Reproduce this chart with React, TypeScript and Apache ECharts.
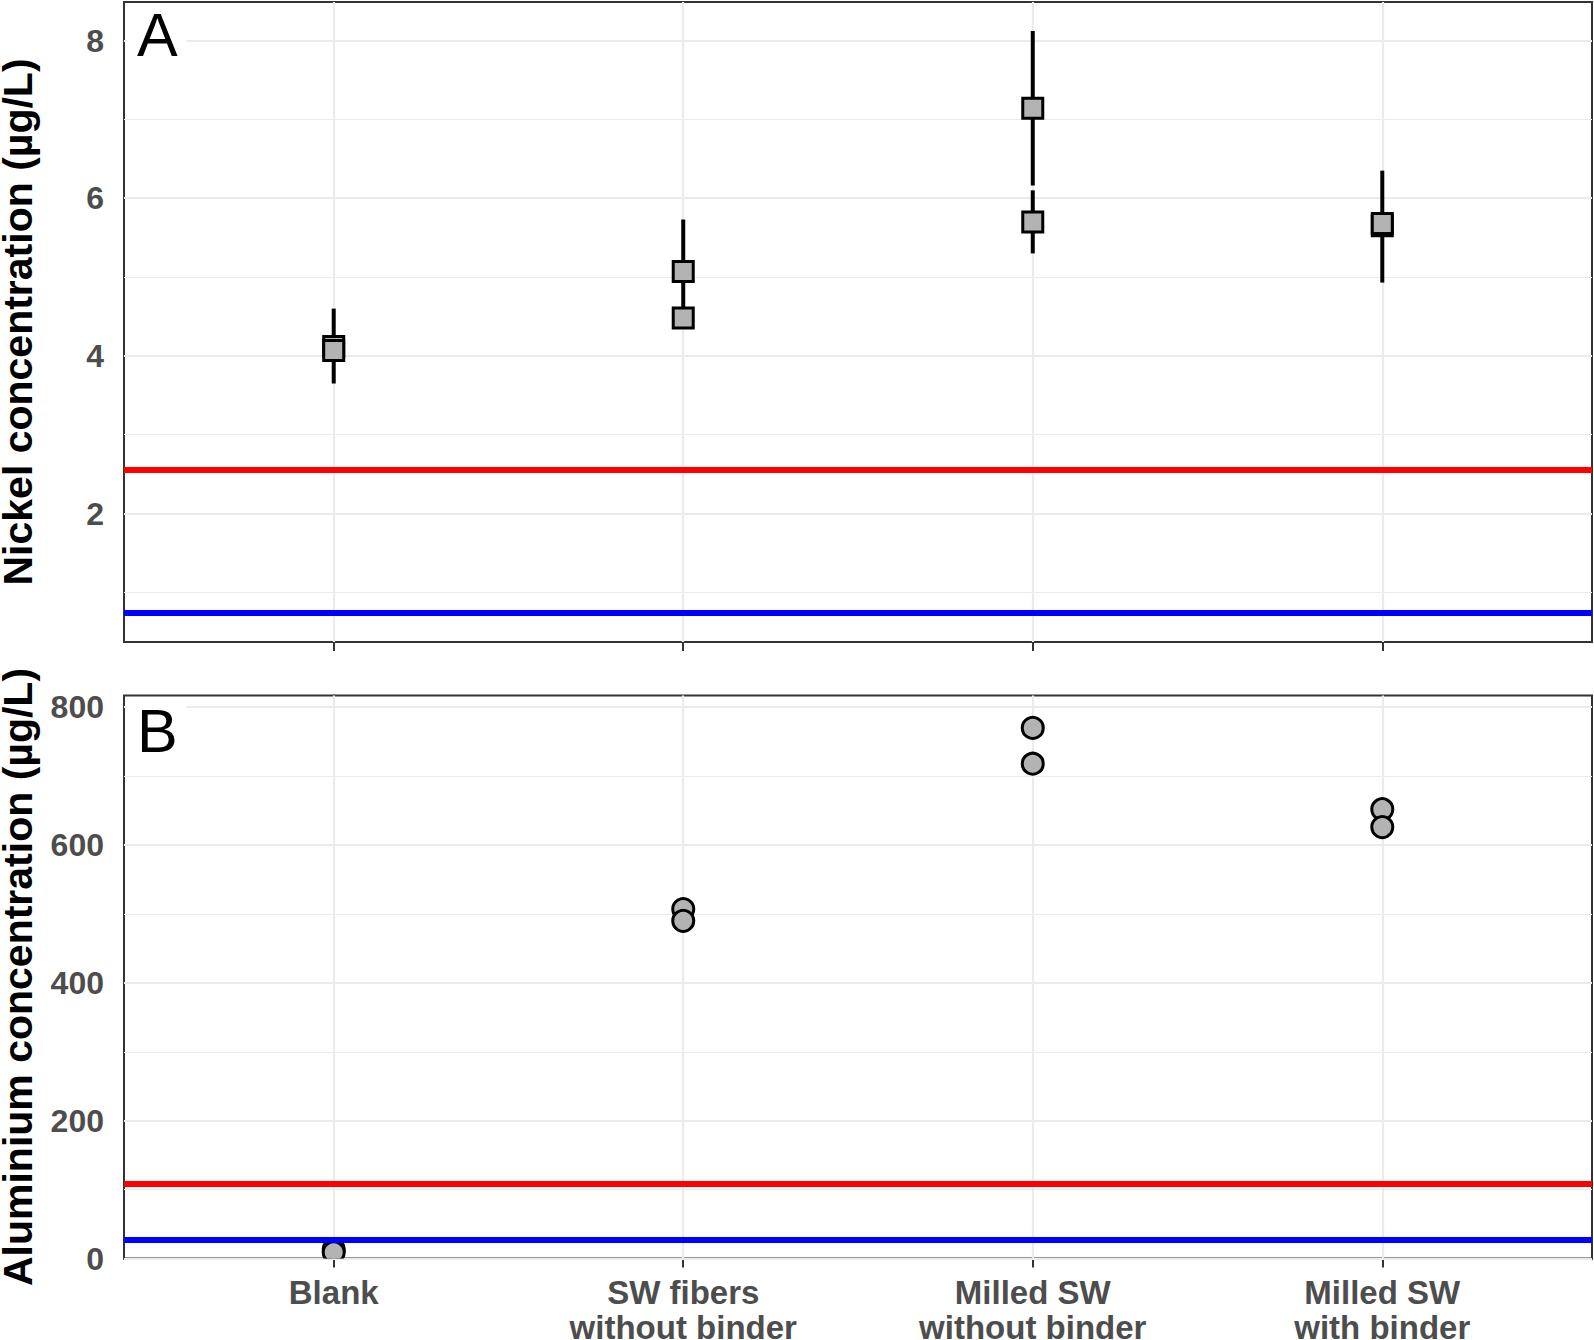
import React, { useEffect, useRef } from "react";
import * as echarts from "echarts";

// ---------- data ----------
const categories = [
  "Blank",
  "SW fibers\nwithout binder",
  "Milled SW\nwithout binder",
  "Milled SW\nwith binder",
];
const categoryIndex = [0, 1, 2, 3];

// Panel A – Nickel (µg/L): replicate means with error bars
const nickelCategory = [0, 0, 1, 1, 2, 2, 3, 3];
const nickelMean = [4.12, 4.07, 5.07, 4.48, 7.14, 5.7, 5.65, 5.68];
const nickelLow = [3.65, 4.0, 4.41, 4.42, 6.16, 5.3, 4.93, 5.6];
const nickelHigh = [4.6, 4.15, 5.73, 4.54, 8.12, 6.1, 6.35, 5.76];
const nickelRedLine = 2.556;
const nickelBlueLine = 0.74;
const nickelTicks = [2, 4, 6, 8];
const nickelMinor = [1, 3, 5, 7];

// Panel B – Aluminium (µg/L)
const alCategory = [0, 0, 1, 1, 2, 2, 3, 3];
const alValue = [13, 9, 507, 490, 770, 718, 652, 626];
const alRedLine = 108;
const alBlueLine = 26.5;
const alTicks = [0, 200, 400, 600, 800];
const alMinor = [100, 300, 500, 700];

const FONT = "'Liberation Sans', Arial, sans-serif";
const GRID_COLOR = "#ebebeb";
const AXIS_COLOR = "#333333";

function gridLines(major: number[], minor: number[]) {
  return [
    ...minor.map((v) => ({ yAxis: v, lineStyle: { color: GRID_COLOR, width: 1.1, type: "solid" } })),
    ...major.map((v) => ({ yAxis: v, lineStyle: { color: GRID_COLOR, width: 2.2, type: "solid" } })),
    ...categoryIndex.map((v) => ({ xAxis: v, lineStyle: { color: GRID_COLOR, width: 2.2, type: "solid" } })),
  ];
}

function refLines(red: number, blue: number) {
  return [
    { yAxis: red, lineStyle: { color: "#ff0000", width: 6, type: "solid" } },
    { yAxis: blue, lineStyle: { color: "#0000ff", width: 6, type: "solid" } },
  ];
}

export default function App() {
  const ref = useRef<HTMLDivElement>(null);

  useEffect(() => {
    document.body.style.margin = "0";
    if (!ref.current) return;
    const chart = echarts.init(ref.current, undefined, { renderer: "svg" });

    const xAxisBase = {
      type: "value",
      min: -0.6,
      max: 3.6,
      splitLine: { show: false },
      axisLine: { show: true, lineStyle: { color: AXIS_COLOR, width: 2 } },
      axisTick: {
        show: true,
        customValues: categoryIndex,
        length: 9,
        lineStyle: { color: AXIS_COLOR, width: 2 },
      },
    };

    const yAxisBase = {
      type: "value",
      splitLine: { show: false },
      axisLine: { show: true, lineStyle: { color: AXIS_COLOR, width: 2 } },
      nameLocation: "middle",
      nameGap: 86,
      nameTextStyle: { fontSize: 41, fontWeight: "bold", color: "#000", fontFamily: FONT },
    };

    const tickLabel = {
      fontSize: 32,
      fontWeight: "bold",
      color: "#4d4d4d",
      fontFamily: FONT,
    };

    const gridBase = {
      left: 124,
      width: 1468,
      show: true,
      borderColor: AXIS_COLOR,
      borderWidth: 2,
      backgroundColor: "transparent",
      containLabel: false,
      outerBoundsMode: "none",
    };

    const option: any = {
      animation: false,
      backgroundColor: "#ffffff",
      grid: [
        { ...gridBase, top: 2, height: 640 },
        { ...gridBase, top: 695.5, height: 563 },
      ],
      xAxis: [
        { ...xAxisBase, gridIndex: 0, axisLabel: { show: false } },
        {
          ...xAxisBase,
          gridIndex: 1,
          axisLabel: {
            show: true,
            customValues: categoryIndex,
            formatter: (v: number) => categories[Math.round(v)],
            margin: 16,
            lineHeight: 35,
            ...tickLabel,
            fontSize: 33,
          },
        },
      ],
      yAxis: [
        {
          ...yAxisBase,
          gridIndex: 0,
          min: 0.371,
          max: 8.489,
          name: "Nickel concentration (µg/L)",
          axisTick: { show: true, customValues: nickelTicks, length: 9, lineStyle: { color: AXIS_COLOR, width: 2 } },
          axisLabel: { show: true, customValues: nickelTicks, margin: 20, ...tickLabel },
        },
        {
          ...yAxisBase,
          gridIndex: 1,
          min: 0,
          max: 817,
          name: "Aluminium concentration (µg/L)",
          axisTick: { show: true, customValues: alTicks, length: 9, lineStyle: { color: AXIS_COLOR, width: 2 } },
          axisLabel: { show: true, customValues: alTicks, margin: 20, ...tickLabel },
        },
      ],
      series: [
        // grid lines A
        {
          type: "line",
          xAxisIndex: 0,
          yAxisIndex: 0,
          data: [],
          silent: true,
          markLine: { silent: true, z: 1, symbol: ["none", "none"], label: { show: false }, data: gridLines(nickelTicks, nickelMinor) },
        },
        // grid lines B
        {
          type: "line",
          xAxisIndex: 1,
          yAxisIndex: 1,
          data: [],
          silent: true,
          markLine: { silent: true, z: 1, symbol: ["none", "none"], label: { show: false }, data: gridLines(alTicks, alMinor) },
        },
        // error bars A
        {
          type: "custom",
          xAxisIndex: 0,
          yAxisIndex: 0,
          z: 3,
          silent: true,
          data: nickelCategory.map((c, i) => [c, nickelLow[i], nickelHigh[i]]),
          encode: { x: 0, y: [1, 2] },
          renderItem: (_p: any, api: any) => {
            const lo = api.coord([api.value(0), api.value(1)]);
            const hi = api.coord([api.value(0), api.value(2)]);
            return {
              type: "line",
              shape: { x1: lo[0], y1: lo[1], x2: hi[0], y2: hi[1] },
              style: { stroke: "#000", lineWidth: 4 },
            };
          },
        },
        // squares A
        {
          type: "scatter",
          xAxisIndex: 0,
          yAxisIndex: 0,
          z: 4,
          silent: true,
          symbol: "rect",
          symbolSize: 20,
          itemStyle: { color: "#b3b3b3", borderColor: "#000", borderWidth: 3, opacity: 1 },
          data: nickelCategory.map((c, i) => [c, nickelMean[i]]),
        },
        // circles B (clipped to panel)
        {
          type: "custom",
          xAxisIndex: 1,
          yAxisIndex: 1,
          z: 4,
          clip: true,
          silent: true,
          data: alCategory.map((c, i) => [c, alValue[i]]),
          encode: { x: 0, y: 1 },
          renderItem: (_p: any, api: any) => {
            const pt = api.coord([api.value(0), api.value(1)]);
            return {
              type: "circle",
              shape: { cx: pt[0], cy: pt[1], r: 10.5 },
              style: { fill: "#b3b3b3", stroke: "#000", lineWidth: 3 },
            };
          },
        },
        // reference lines A
        {
          type: "line",
          xAxisIndex: 0,
          yAxisIndex: 0,
          data: [],
          silent: true,
          markLine: { silent: true, z: 6, symbol: ["none", "none"], label: { show: false }, data: refLines(nickelRedLine, nickelBlueLine) },
        },
        // reference lines B
        {
          type: "line",
          xAxisIndex: 1,
          yAxisIndex: 1,
          data: [],
          silent: true,
          markLine: { silent: true, z: 6, symbol: ["none", "none"], label: { show: false }, data: refLines(alRedLine, alBlueLine) },
        },
      ],
      graphic: [
        {
          type: "text",
          left: 127,
          top: 4,
          z: 10,
          style: {
            text: "A",
            font: `normal 61px ${FONT}`,
            fill: "#000",
            backgroundColor: "#fff",
            padding: [0, 9, 0, 10],
          },
        },
        {
          type: "text",
          left: 127,
          top: 700,
          z: 10,
          style: {
            text: "B",
            font: `normal 61px ${FONT}`,
            fill: "#000",
            backgroundColor: "#fff",
            padding: [0, 9, 0, 10],
          },
        },
      ],
    };

    chart.setOption(option);
    return () => chart.dispose();
  }, []);

  return <div ref={ref} style={{ width: 1594, height: 1340 }} />;
}
